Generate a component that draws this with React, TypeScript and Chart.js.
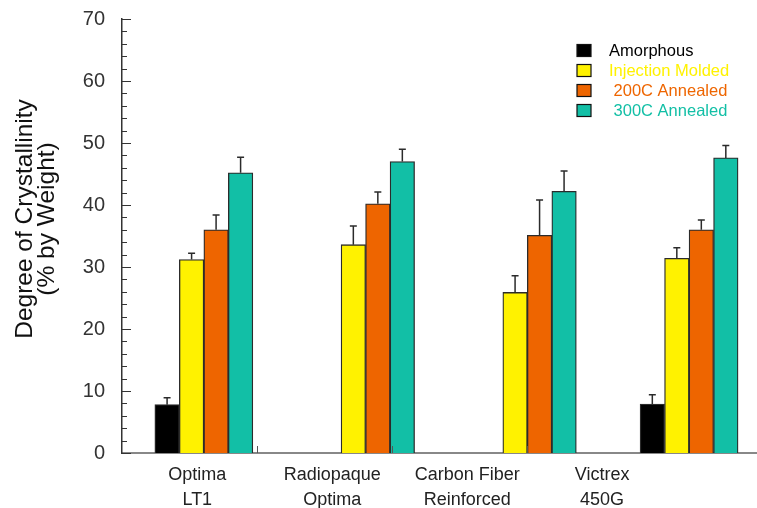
import React, { useEffect, useRef } from "react";
import { Chart, registerables } from "chart.js";

Chart.register(...registerables);

// ---------- data ----------
const categories: string[][] = [
  ["Optima", "LT1"],
  ["Radiopaque", "Optima"],
  ["Carbon Fiber", "Reinforced"],
  ["Victrex", "450G"],
];
const seriesLabels = ["Amorphous", "Injection Molded", " 200C Annealed", " 300C Annealed"];
const amorphous = [7.8, null, null, 7.9];
const amorphousErr = [1.1, null, null, 1.5];
const injectionMolded = [31.2, 33.6, 25.9, 31.4];
const injectionMoldedErr = [1.0, 3.0, 2.7, 1.7];
const annealed200 = [36.0, 40.2, 35.1, 36.0];
const annealed200Err = [2.4, 1.9, 5.7, 1.6];
const annealed300 = [45.2, 47.0, 42.2, 47.6];
const annealed300Err = [2.5, 2.0, 3.3, 2.0];
const seriesColors = ["#000000", "#FFF200", "#EE6500", "#12BFA6"];
const yMin = 0;
const yMax = 70;
const yStep = 10;
const yMinorStep = 2;

const seriesValues = [amorphous, injectionMolded, annealed200, annealed300];
const seriesErrors = [amorphousErr, injectionMoldedErr, annealed200Err, annealed300Err];

const FONT = "'Liberation Sans', Arial, Helvetica, sans-serif";

const errorBarPlugin = {
  id: "errorBars",
  afterDatasetsDraw(chart: any) {
    const ctx = chart.ctx;
    const yScale = chart.scales.y;
    ctx.save();
    ctx.strokeStyle = "#2b2b2b";
    ctx.lineWidth = 1.5;
    chart.data.datasets.forEach((ds: any, i: number) => {
      const meta = chart.getDatasetMeta(i);
      meta.data.forEach((el: any, j: number) => {
        const v = ds.data[j]?.y;
        const e = ds.errors?.[j];
        if (v == null || e == null) return;
        const top = yScale.getPixelForValue(v + e);
        ctx.beginPath();
        ctx.moveTo(el.x, el.y);
        ctx.lineTo(el.x, top);
        ctx.moveTo(el.x - 3.5, top);
        ctx.lineTo(el.x + 3.5, top);
        ctx.stroke();
      });
    });
    ctx.restore();
  },
};

const axisTicksPlugin = {
  id: "axisTicks",
  afterDraw(chart: any) {
    const ctx = chart.ctx;
    const y = chart.scales.y;
    const x2 = chart.scales.x2;
    const area = chart.chartArea;
    ctx.save();
    ctx.strokeStyle = "#333";
    ctx.lineWidth = 1;
    for (let v = y.min; v <= y.max + 1e-9; v += yMinorStep) {
      const py = Math.round(y.getPixelForValue(v)) + 0.5;
      const major = Math.abs(v / yStep - Math.round(v / yStep)) < 1e-6;
      ctx.beginPath();
      ctx.moveTo(area.left, py);
      ctx.lineTo(area.left + (major ? 9 : 5), py);
      ctx.stroke();
    }
    ctx.strokeStyle = "#555";
    for (let i = 0; i < categories.length - 1; i++) {
      const px = Math.round(x2.getPixelForValue(i + 0.94)) + 0.5;
      ctx.beginPath();
      ctx.moveTo(px, area.bottom);
      ctx.lineTo(px, area.bottom - 7);
      ctx.stroke();
    }
    ctx.restore();
  },
};

const legendPlugin = {
  id: "customLegend",
  afterDraw(chart: any) {
    const ctx = chart.ctx;
    const area = chart.chartArea;
    const left = area.right - 180;
    const top = area.top + 31.5;
    ctx.save();
    ctx.font = `16.5px ${FONT}`;
    ctx.textBaseline = "middle";
    ctx.textAlign = "left";
    chart.data.datasets.forEach((ds: any, i: number) => {
      const cy = top + i * 20;
      ctx.fillStyle = ds.backgroundColor;
      ctx.fillRect(left, cy - 6, 14, 12);
      ctx.strokeStyle = "#111";
      ctx.lineWidth = 1.2;
      ctx.strokeRect(left, cy - 6, 14, 12);
      ctx.fillStyle = ds.backgroundColor;
      ctx.fillText(ds.label, left + 32, cy + 1);
    });
    ctx.restore();
  },
};

export default function App() {
  const ref = useRef<HTMLCanvasElement | null>(null);

  useEffect(() => {
    if (!ref.current) return;
    const datasets = seriesLabels.map((label, i) => ({
      label,
      data: seriesValues[i].map((v, j) => ({ x: j, y: v })),
      errors: seriesErrors[i],
      backgroundColor: seriesColors[i],
      borderColor: "#2b2b2b",
      borderWidth: 1.3,
      barThickness: 24.5,
    }));

    const chart = new Chart(ref.current, {
      type: "bar",
      data: { datasets } as any,
      options: {
        animation: false,
        responsive: false,
        devicePixelRatio: 1,
        layout: { padding: { top: 19, left: 0, right: 0, bottom: 0 } },
        plugins: {
          legend: { display: false },
          tooltip: { enabled: false },
        },
        scales: {
          x: {
            type: "linear",
            display: false,
            offset: false,
            min: -0.506,
            max: 3.42,
            afterBuildTicks: (s: any) => {
              s.ticks = categories.map((_, i) => ({ value: i }));
            },
          },
          x2: {
            type: "linear",
            position: "bottom",
            offset: false,
            min: -0.058,
            max: 4.648,
            grid: { display: false, drawTicks: false },
            border: { display: true, color: "#888", width: 2 },
            afterBuildTicks: (s: any) => {
              s.ticks = categories.map((_, i) => ({ value: i + 0.5 }));
            },
            afterFit: (s: any) => {
              s.height = 55;
            },
            ticks: {
              autoSkip: false,
              maxRotation: 0,
              minRotation: 0,
              padding: 10,
              color: "#222",
              font: { family: FONT, size: 18, lineHeight: 1.36 },
              callback: (_v: any, idx: number) => categories[idx],
            },
          },
          y: {
            min: yMin,
            max: yMax,
            grid: { display: false, drawTicks: false },
            border: { display: true, color: "#333", width: 1.5 },
            afterFit: (s: any) => {
              s.width = 122;
              s.paddingTop = 0;
              s.paddingBottom = 0;
            },
            ticks: {
              stepSize: yStep,
              padding: 17,
              color: "#333",
              font: { family: FONT, size: 20 },
            },
            title: {
              display: true,
              text: ["     Degree of Crystallinity", "     (% by Weight)"],
              color: "#111",
              font: { family: FONT, size: 24.5, lineHeight: 0.9 },
              padding: { top: 14, bottom: 0 },
            },
          },
        },
      } as any,
      plugins: [errorBarPlugin, axisTicksPlugin, legendPlugin],
    });
    return () => chart.destroy();
  }, []);

  return (
    <div style={{ position: "fixed", left: 0, top: 0, width: 757, height: 508, background: "#fff" }}>
      <canvas ref={ref} width={757} height={508} />
    </div>
  );
}
